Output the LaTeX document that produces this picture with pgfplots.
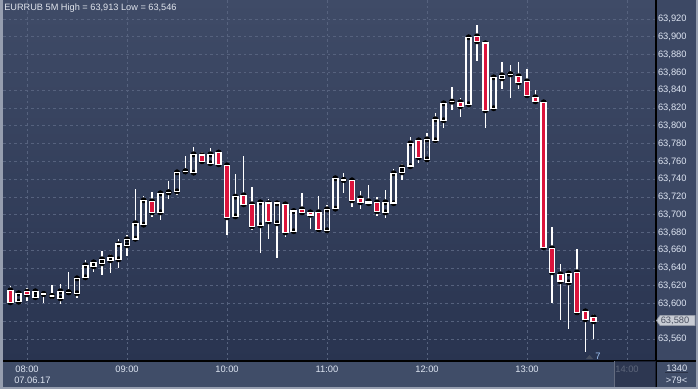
\documentclass[border=0pt]{standalone}
\usepackage{pgfplots}
\pgfplotsset{compat=1.18}
\usepackage{pgfplotstable}
\usepackage{fontspec}
\setmainfont{Liberation Sans}
\definecolor{bgtop}{RGB}{63,75,103}
\definecolor{bgbot}{RGB}{41,52,80}
\definecolor{panel}{RGB}{64,77,104}
\definecolor{rpanel}{RGB}{60,72,100}
\definecolor{framec}{RGB}{150,158,175}
\definecolor{gridc}{RGB}{86,98,126}
\definecolor{candlered}{RGB}{220,20,60}
\definecolor{lbl}{RGB}{222,229,242}
\definecolor{titlec}{RGB}{224,228,236}
\definecolor{overlayc}{RGB}{38,47,72}
\definecolor{scrline}{RGB}{100,108,128}
\definecolor{sepline}{RGB}{42,50,70}
\definecolor{trimark}{RGB}{70,78,96}
\definecolor{volc}{RGB}{160,196,245}
\definecolor{boxfill}{RGB}{200,204,212}
\definecolor{boxdraw}{RGB}{150,156,168}
\definecolor{boxtext}{RGB}{74,80,96}

\pgfplotstableread{
i o h l c
-3 63622.1 63622.1 63616.5 63616.5
-2 63615.0 63619.9 63600.0 63601.5
-1 63602.2 63614.2 63600.8 63611.7
0 63613.5 63617.3 63603.3 63610.5
1 63607.2 63616.1 63604.9 63613.9
2 63610.9 63614.2 63601.1 63610.9
3 63608.6 63621.0 63604.9 63608.6
4 63606.0 63622.1 63600.0 63613.9
5 63612.8 63635.6 63611.7 63612.8
6 63611.7 63628.5 63606.7 63628.5
7 63629.6 63649.1 63628.1 63643.1
8 63642.0 63648.8 63635.9 63646.5
9 63645.4 63659.2 63631.9 63649.9
10 63648.8 63655.8 63634.8 63652.1
11 63649.9 63672.7 63639.8 63666.8
12 63665.6 63676.9 63653.9 63672.4
13 63673.0 63728.9 63671.9 63690.4
14 63688.8 63721.1 63687.7 63716.2
15 63715.1 63725.6 63697.8 63702.7
16 63702.7 63726.7 63694.4 63724.1
17 63725.2 63737.9 63718.0 63725.2
18 63726.3 63747.7 63722.5 63747.7
19 63748.8 63766.0 63747.3 63748.8
20 63747.3 63776.2 63746.6 63767.9
21 63766.9 63770.2 63758.5 63760.1
22 63757.8 63774.7 63757.8 63767.9
23 63770.0 63771.3 63754.5 63756.7
24 63755.6 63755.6 63677.5 63697.1
25 63698.2 63745.8 63696.0 63720.3
26 63721.8 63766.0 63710.2 63711.7
27 63711.7 63731.2 63683.2 63687.0
28 63688.1 63716.6 63657.3 63714.0
29 63712.9 63717.7 63673.0 63692.6
30 63690.4 63715.4 63651.7 63712.9
31 63711.7 63711.7 63675.3 63680.2
32 63681.4 63706.4 63681.4 63704.2
33 63706.1 63724.1 63702.7 63702.7
34 63702.7 63702.7 63684.3 63700.0
35 63702.7 63721.1 63682.5 63683.6
36 63682.5 63710.6 63682.5 63706.1
37 63706.8 63743.2 63704.5 63741.0
38 63739.0 63746.9 63724.8 63739.0
39 63738.7 63738.7 63709.0 63716.2
40 63718.5 63726.7 63706.8 63714.0
41 63712.9 63733.4 63712.9 63715.1
42 63714.0 63719.6 63698.9 63703.9
43 63702.7 63727.8 63696.6 63714.0
44 63712.9 63751.4 63712.9 63746.6
45 63747.7 63756.7 63738.7 63753.3
46 63754.5 63787.4 63753.3 63780.3
47 63783.7 63784.8 63757.8 63764.6
48 63762.3 63791.6 63762.3 63784.8
49 63783.7 63814.0 63782.6 63807.3
50 63806.2 63825.3 63797.2 63825.3
51 63827.1 63843.3 63817.4 63827.1
52 63826.4 63830.9 63810.2 63821.9
53 63824.2 63899.5 63821.9 63899.5
54 63900.6 63913.0 63872.5 63895.0
55 63892.8 63893.9 63797.9 63817.4
56 63819.7 63855.6 63819.7 63854.5
57 63853.4 63871.4 63841.0 63856.8
58 63857.9 63868.0 63830.9 63857.9
59 63855.6 63871.4 63841.0 63848.9
60 63850.0 63863.5 63832.0 63834.3
61 63832.0 63839.9 63825.3 63827.5
62 63826.4 63828.7 63663.4 63663.4
63 63662.3 63685.9 63601.1 63635.3
64 63633.0 63644.3 63582.0 63625.2
65 63624.0 63636.4 63571.9 63634.1
66 63635.3 63661.1 63586.9 63590.3
67 63591.4 63591.4 63546.0 63582.4
68 63584.7 63588.0 63560.6 63580.2
}\candles

\newlength\candlelen
\pgfdeclareplotmark{candle}{%
  \begingroup
    \pgfkeys{/pgf/fpu=true,/pgf/fpu/output format=fixed}%
    \pgfmathparse{\hh}%
    \xdef\candleh{\pgfmathresult}%
  \endgroup
  \pgfsetlinewidth{1.15pt}%
  \pgfsetstrokecolor{white}%
  \pgfsetmiterjoin
  \pgfpathrectangle{\pgfpoint{-1.85pt}{0pt}}{\pgfpoint{3.7pt}{\candleh pt}}%
  \setlength\candlelen{\candleh pt}%
  \ifdim\candlelen<-0.01pt
    \pgfsetfillcolor{candlered}\pgfusepath{fill,stroke}%
  \else
    \pgfusepath{stroke}%
  \fi
}

\begin{document}
\begin{tikzpicture}[x=0.75pt,y=0.75pt]
\useasboundingbox (0,0) rectangle (698,389);
\fill[framec] (0,0) rectangle (698,389);
\shade[top color=bgtop, bottom color=bgbot] (3,28) rectangle (656,389);
\fill[rpanel] (656,28) rectangle (696,389);
\fill[panel] (3,2) rectangle (696,28);

\begin{axis}[
  at={(2.25pt,21pt)}, anchor=south west,
  scale only axis, width=489.75pt, height=270.75pt,
  xmin=-2.88, xmax=75.48, ymin=63535.55, ymax=63941.44,
  axis line style={draw=none},
  major tick length=0pt, tick style={draw=none},
  xtick={0,12,24,36,48,60,72},
  xticklabels={08:00,09:00,10:00,11:00,12:00,13:00,14:00},
  ytick={63560,63580,63600,63620,63640,63660,63680,63700,63720,63740,63760,63780,63800,63820,63840,63860,63880,63900,63920},
  yticklabels={{63,560},{},{63,600},{63,620},{63,640},{63,660},{63,680},{63,700},{63,720},{63,740},{63,760},{63,780},{63,800},{63,820},{63,840},{63,860},{63,880},{63,900},{63,920}},
  yticklabel pos=right,
  xticklabel style={anchor=base, yshift=-8.5pt, font=\fontsize{7}{8}\selectfont, text=lbl},
  yticklabel style={anchor=west, xshift=-2pt, font=\fontsize{7}{8}\selectfont, text=lbl},
  xmajorgrids, ymajorgrids,
  major grid style={gridc, dash pattern=on 2pt off 2.2pt, line width=0.6pt},
  clip marker paths=true,
]
% upper wicks
\addplot[only marks, mark=none,
  error bars/.cd, y dir=plus, y explicit, error mark=none,
  error bar style={white, line width=0.9pt, solid}]
  table[x=i, y expr={max(\thisrow{o},\thisrow{c})},
        y error expr={\thisrow{h}-max(\thisrow{o},\thisrow{c})}] {\candles};
% lower wicks
\addplot[only marks, mark=none,
  error bars/.cd, y dir=minus, y explicit, error mark=none,
  error bar style={white, line width=0.9pt, solid}]
  table[x=i, y expr={min(\thisrow{o},\thisrow{c})},
        y error expr={min(\thisrow{o},\thisrow{c})-\thisrow{l}}] {\candles};
% bodies
\addplot[scatter, only marks, mark=candle,
  visualization depends on={(\thisrow{c}-\thisrow{o})*0.66705\as\hh}]
  table[x=i, y=o] {\candles};
\end{axis}

% axis lines
\draw[black, line width=0.8pt] (3,28) -- (696,28);
\draw[black, line width=0.8pt] (656,2) -- (656,389);

% title
\node[anchor=base west, inner sep=0, text=titlec, font=\fontsize{6.9}{8}\selectfont] at (4,378.5) {EURRUB 5M High = 63,913 Low = 63,546};

% date
\node[anchor=base west, inner sep=0, text=lbl, font=\fontsize{7}{8}\selectfont] at (14,5.7) {07.06.17};

% scroller overlay
\fill[overlayc, opacity=0.7] (614.5,2) rectangle (655.6,27.6);
\draw[scrline, line width=0.8pt] (614.5,2) -- (614.5,27.6);

% corner panel
\node[anchor=base east, inner sep=0, text=lbl, font=\fontsize{7}{8}\selectfont] at (687.5,18) {1340};
\draw[sepline, line width=0.7pt] (665,16.3) -- (688,16.3);
\node[anchor=base east, inner sep=0, text=lbl, font=\fontsize{7}{8}\selectfont] at (687.5,5.7) {>79<};

% volume marker
\fill[trimark] (586,30) -- (593,30) -- (589.5,34) -- cycle;
\node[anchor=base west, inner sep=0, text=volc, font=\fontsize{7}{8}\selectfont] at (595,30) {7};

% current price box
\filldraw[fill=boxfill, draw=boxdraw, line width=0.5pt]
  (656.5,68.5) -- (660,73.5) -- (695,73.5) -- (695,63.5) -- (660,63.5) -- cycle;
\node[anchor=west, inner sep=0, text=boxtext, font=\fontsize{7}{8}\selectfont] at (660.5,68.5) {63,580};
\end{tikzpicture}
\end{document}
